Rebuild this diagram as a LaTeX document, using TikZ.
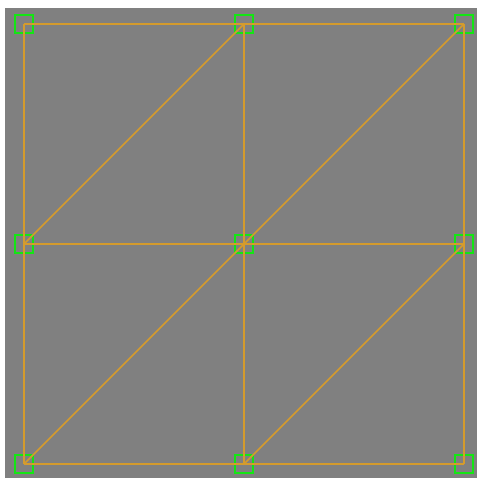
\documentclass[tikz,border=0pt]{standalone}
\definecolor{bggray}{RGB}{128,128,128}
\definecolor{edgeor}{RGB}{212,155,45}
\definecolor{vgreen}{RGB}{20,230,20}
\begin{document}
\begin{tikzpicture}[x=1pt,y=1pt,
  vert/.style={draw=vgreen,line width=1.6pt,minimum width=18pt,minimum height=18pt,inner sep=0pt,outer sep=0pt,rectangle,fill=none},
  edge/.style={draw=edgeor,line width=1.5pt}]
\useasboundingbox (0,0) rectangle (477,478);
\fill[bggray] (5,0) rectangle (477,470);
\node[vert] (a1) at (24,454) {};
\node[vert] (a2) at (244,454) {};
\node[vert] (a3) at (464,454) {};
\node[vert] (b1) at (24,234) {};
\node[vert] (b2) at (244,234) {};
\node[vert] (b3) at (464,234) {};
\node[vert] (c1) at (24,14) {};
\node[vert] (c2) at (244,14) {};
\node[vert] (c3) at (464,14) {};
\draw[edge] (a1.center) -- (a2.center) -- (a3.center);
\draw[edge] (b1.center) -- (b2.center) -- (b3.center);
\draw[edge] (c1.center) -- (c2.center) -- (c3.center);
\draw[edge] (a1.center) -- (b1.center) -- (c1.center);
\draw[edge] (a2.center) -- (b2.center) -- (c2.center);
\draw[edge] (a3.center) -- (b3.center) -- (c3.center);
\draw[edge] (b1.center) -- (a2.center);
\draw[edge] (c1.center) -- (b2.center) -- (a3.center);
\draw[edge] (c2.center) -- (b3.center);
\end{tikzpicture}
\end{document}
